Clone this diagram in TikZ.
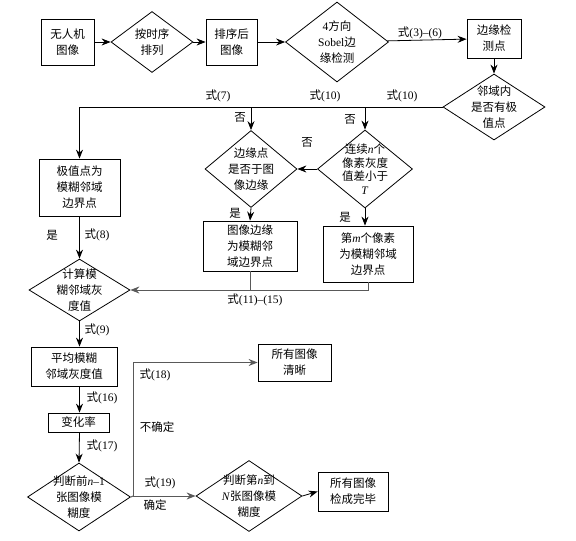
\documentclass[tikz,border=0pt]{standalone}
\usepackage{fontspec}
\setmainfont{Liberation Serif}
\newfontfamily\cjk{Noto Sans CJK SC}
\usetikzlibrary{shapes.geometric,arrows.meta}
\newcommand{\zh}[1]{{\cjk #1}}
\begin{document}
\begin{tikzpicture}[x=1pt,y=-1pt,
  every node/.style={font=\fontsize{11.5pt}{16pt}\selectfont},
  box/.style={draw,line width=0.8pt,rectangle,align=center,inner sep=1pt},
  dia/.style={draw,line width=0.8pt,diamond,align=center,inner sep=-14pt},
  lbl/.style={inner sep=0pt},
  arr/.style={-{Stealth[length=9pt,width=7pt,inset=3pt]},line width=0.8pt},
  garr/.style={-{Stealth[length=9pt,width=7pt,inset=3pt]},line width=1pt,draw=black!65},
  gline/.style={line width=1pt,draw=black!65},
  pline/.style={line width=0.8pt}]
\useasboundingbox (0,0) rectangle (576,541);
\fill[white] (0,0) rectangle (576,541);

\node[box,minimum width=53pt,minimum height=46pt] (b1) at (67.5,42) {\zh{无人机}\\\zh{图像}};
\node[dia,minimum width=82pt,minimum height=61pt] (d1) at (152,42) {\zh{按时序}\\\zh{排列}};
\node[box,minimum width=51pt,minimum height=46pt] (b2) at (231.5,42) {\zh{排序后}\\\zh{图像}};
\node[dia,minimum width=103pt,minimum height=80pt] (d2) at (337,42) {4\zh{方向}\\Sobel\zh{边}\\\zh{缘检测}};
\node[box,minimum width=54pt,minimum height=39pt] (b3) at (494,38.5) {\zh{边缘检}\\\zh{测点}};
\node[dia,minimum width=102pt,minimum height=66pt] (d3) at (494,107) {\zh{邻域内}\\\zh{是否有极}\\\zh{值点}};

\node[box,minimum width=81pt,minimum height=57pt] (b4) at (79.5,187.5) {\zh{极值点为}\\\zh{模糊邻域}\\\zh{边界点}};
\node[dia,minimum width=92pt,minimum height=77pt] (d4) at (251,169) {\zh{边缘点}\\\zh{是否于图}\\\zh{像边缘}};
\node[dia,minimum width=95pt,minimum height=78pt,font=\fontsize{11.5pt}{13.5pt}\selectfont] (d5) at (365,169) {\zh{连续}\textit{n}\zh{个}\\\zh{像素灰度}\\\zh{值差小于}\\\textit{T}};
\node[box,minimum width=94pt,minimum height=50pt] (b5) at (250,246) {\zh{图像边缘}\\\zh{为模糊邻}\\\zh{域边界点}};
\node[box,minimum width=90pt,minimum height=56pt] (b6) at (368,254) {\zh{第}\textit{m}\zh{个像素}\\\zh{为模糊邻域}\\\zh{边界点}};
\node[dia,minimum width=101pt,minimum height=62pt] (d6) at (79.5,290) {\zh{计算模}\\\zh{糊邻域灰}\\\zh{度值}};
\node[box,minimum width=86pt,minimum height=39pt] (b7) at (74,366.5) {\zh{平均模糊}\\\zh{邻域灰度值}};
\node[box,minimum width=61pt,minimum height=19pt] (b8) at (78.5,422.5) {\zh{变化率}};
\node[dia,minimum width=103pt,minimum height=68pt] (d7) at (79,497) {\zh{判断前}\textit{n}–1\\\zh{张图像模}\\\zh{糊度}};
\node[dia,minimum width=106pt,minimum height=71pt] (d8) at (249,496) {\zh{判断第}\textit{n}\zh{到}\\\textit{N}\zh{张图像模}\\\zh{糊度}};
\node[box,minimum width=73pt,minimum height=37pt] (b9) at (294.5,362.5) {\zh{所有图像}\\\zh{清晰}};
\node[box,minimum width=70pt,minimum height=39pt] (b10) at (353,491.5) {\zh{所有图像}\\\zh{检成完毕}};

% top row
\draw[arr] (b1) -- (d1);
\draw[arr] (d1) -- (b2);
\draw[arr] (b2) -- (d2);
\draw[arr] (d2) -- (b3);
\draw[arr] (b3) -- (d3);

% from d3 leftwards
\coordinate (c4) at (d4.north |- d3.west);
\coordinate (c5) at (d5.north |- d3.west);
\draw[arr] (d3.west) -| (b4.north);
\draw[arr] (c4) -- (d4.north);
\draw[arr] (c5) -- (d5.north);
\draw[arr] (d5.west) -- (d4.east);
\draw[arr] (d4.south) -- (b5.north);
\draw[arr] (d5.south) -- (d5.south |- b6.north);
\draw[arr] (b4.south) -- (d6.north);
\draw[gline] (b5.south) -- (b5.south |- d6.east);
\draw[garr] (b6.south) |- (d6.east);
\draw[arr] (d6.south) -- (d6.south |- b7.north);
\draw[arr] (d6.south |- b7.south) -- (d6.south |- b8.north);
\draw[arr] (d6.south |- b8.south) -- (d7.north);

% bottom
\coordinate (j) at (133,496);
\draw[gline] (d7.east) -- (j);
\draw[garr] (j) |- (b9.west);
\draw[garr] (j) -- (d8.west);
\draw[arr] (d8.east) -- (b10.west);

% labels
\node[lbl] (l1) at (420,33) {\zh{式}(3)–(6)};
\node[lbl] (l2) at (402,96) {\zh{式}(10)};
\node[lbl] (l3) at (325,96) {\zh{式}(10)};
\node[lbl] (l4) at (218,96) {\zh{式}(7)};
\node[lbl] (l5) at (240,117) {\zh{否}};
\node[lbl] (l6) at (350,119) {\zh{否}};
\node[lbl] (l7) at (307,142) {\zh{否}};
\node[lbl] (l8) at (235,213) {\zh{是}};
\node[lbl] (l9) at (345,217) {\zh{是}};
\node[lbl] (l10) at (52,235) {\zh{是}};
\node[lbl] (l11) at (97,235) {\zh{式}(8)};
\node[lbl] (l12) at (255,300) {\zh{式}(11)–(15)};
\node[lbl] (l13) at (97,330) {\zh{式}(9)};
\node[lbl] (l14) at (102,398) {\zh{式}(16)};
\node[lbl] (l15) at (102,446) {\zh{式}(17)};
\node[lbl] (l16) at (155,375) {\zh{式}(18)};
\node[lbl] (l17) at (157,427) {\zh{不确定}};
\node[lbl] (l18) at (160,483) {\zh{式}(19)};
\node[lbl] (l19) at (155,505) {\zh{确定}};
\end{tikzpicture}
\end{document}
